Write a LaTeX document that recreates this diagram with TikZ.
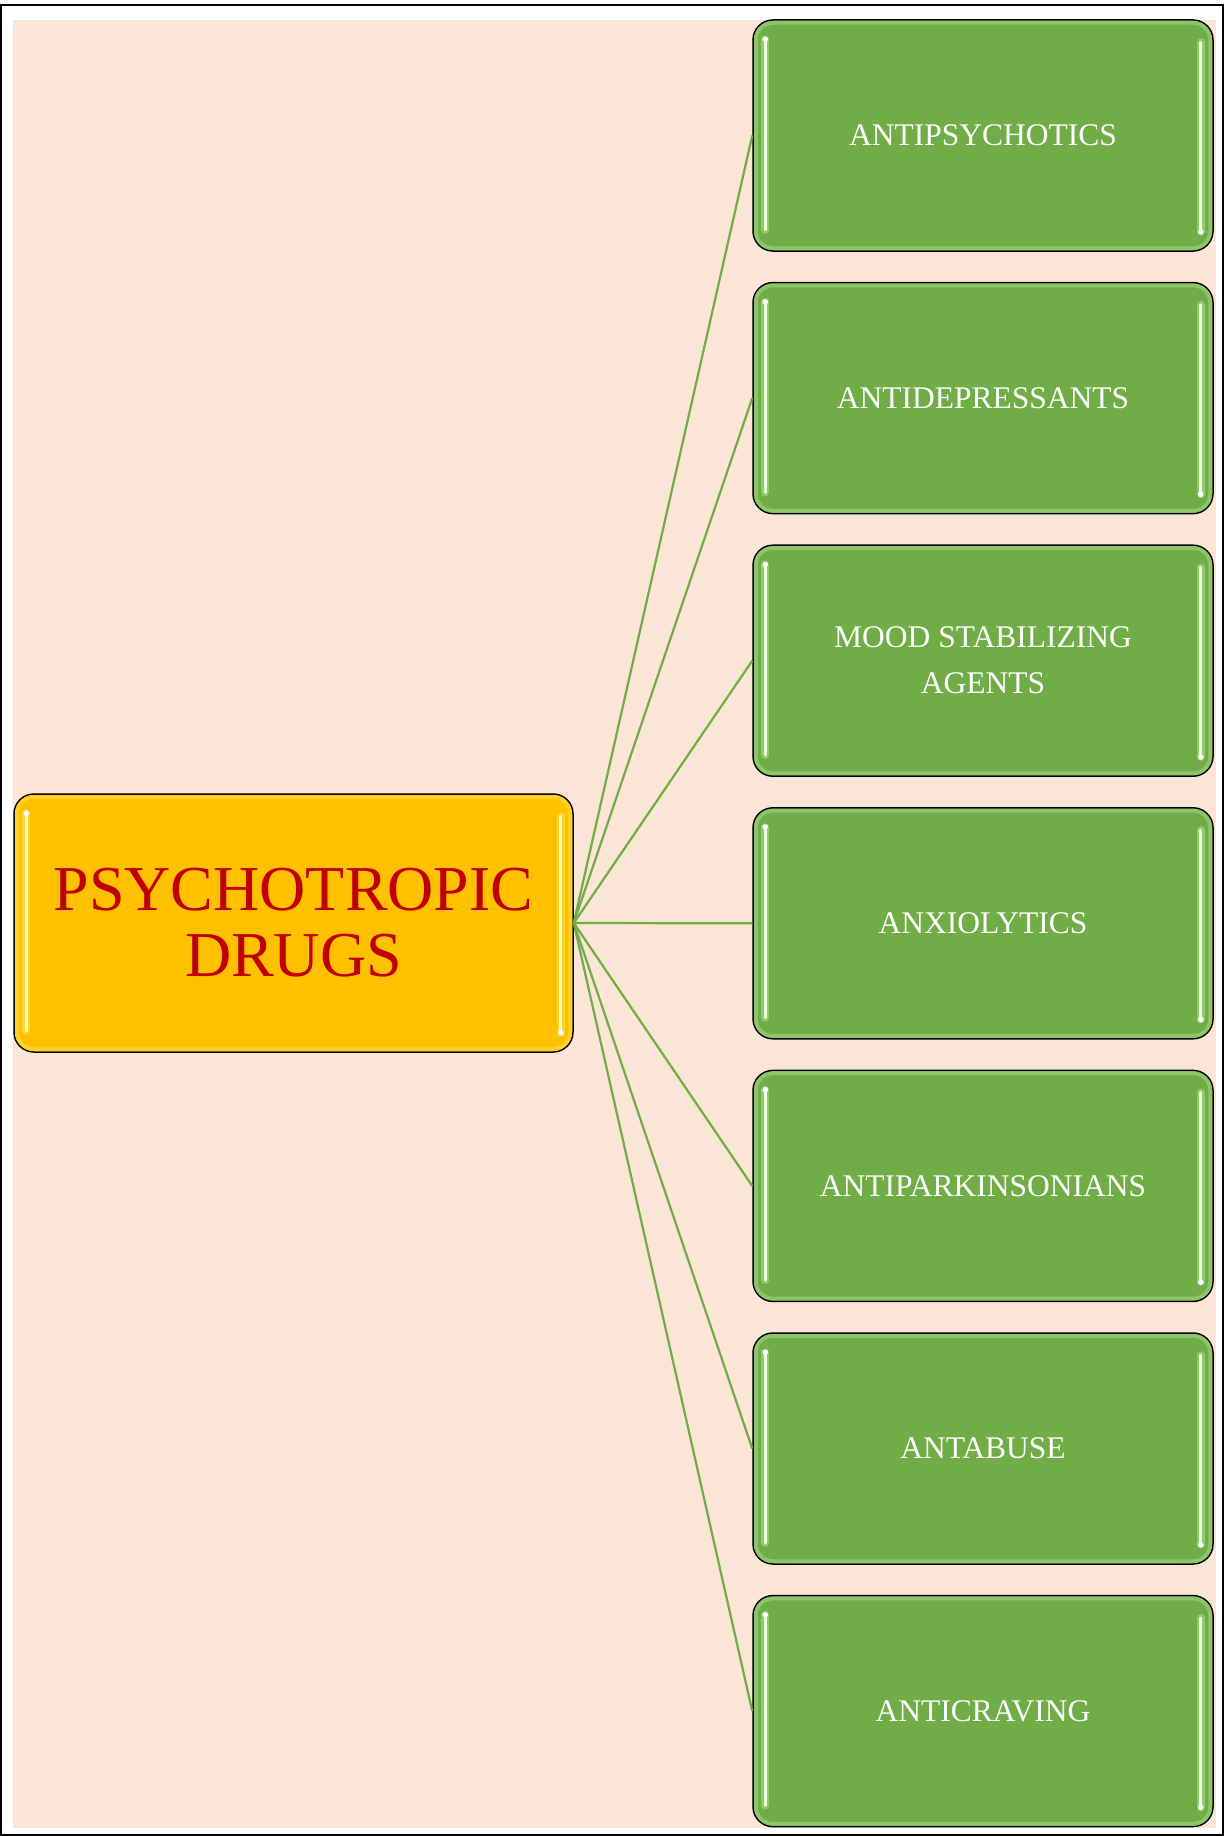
\documentclass[tikz,border=0pt]{standalone}
\usepackage{fontspec}
\setmainfont{Liberation Serif}
\definecolor{peach}{HTML}{FBE5D6}
\definecolor{leaf}{HTML}{70AD47}
\definecolor{gold}{HTML}{FFC000}
\definecolor{deepred}{HTML}{C00000}
\definecolor{leafhl}{HTML}{EDFFDD}
\definecolor{leafglow}{HTML}{B4E395}
\definecolor{goldhl}{HTML}{FFFFB0}
\definecolor{goldglow}{HTML}{FFE65A}
\begin{document}
\begin{tikzpicture}[x=1pt,y=-1pt,
  hubbox/.style={draw=black, line width=1.5pt, fill=gold, rounded corners=20pt,
    minimum width=559pt, minimum height=258pt, inner sep=0pt, align=center,
    text=deepred, font=\fontsize{64}{66}\selectfont},
  classbox/.style={draw=black, line width=1.5pt, fill=leaf, rounded corners=20pt,
    minimum width=460pt, minimum height=231pt, inner sep=0pt, align=center,
    text=white, font=\fontsize{31.5}{46}\selectfont},
  link/.style={draw=leaf, line width=2.2pt},
  rim/.style={line width=4pt, rounded corners=17pt, opacity=0.45},
  glow/.style={line width=8pt, line cap=round, opacity=0.5},
  shine/.style={line width=3pt, line cap=round}
]
% page frame and background
\useasboundingbox (0,0) rectangle (1224,1836);
\fill[white] (0,0) rectangle (1224,1836);
\fill[peach] (13,20) rectangle (1216,1828);
\draw[black, line width=2pt] (1,5) rectangle (1223,1835);

% central box
\node[hubbox] (hub) at (293.5,923) {PSYCHOTROPIC\\DRUGS};

% class boxes
\node[classbox] (b1) at (983,135.5) {ANTIPSYCHOTICS};
\node[classbox] (b2) at (983,398.1) {ANTIDEPRESSANTS};
\node[classbox] (b3) at (983,660.7) {MOOD STABILIZING\\AGENTS};
\node[classbox] (b4) at (983,923.3) {ANXIOLYTICS};
\node[classbox] (b5) at (983,1185.9) {ANTIPARKINSONIANS};
\node[classbox] (b6) at (983,1448.5) {ANTABUSE};
\node[classbox] (b7) at (983,1711.1) {ANTICRAVING};

% glossy rims and side highlights
\foreach \b in {b1,b2,b3,b4,b5,b6,b7}{
  \draw[rim, leafglow] ([xshift=3.5pt,yshift=-3.5pt]\b.north west) rectangle ([xshift=-3.5pt,yshift=3.5pt]\b.south east);
  \draw[glow, leafglow] ([xshift=13pt,yshift=-20pt]\b.north west) -- ([xshift=13pt,yshift=22pt]\b.south west);
  \draw[glow, leafglow] ([xshift=-13pt,yshift=-23pt]\b.north east) -- ([xshift=-13pt,yshift=20pt]\b.south east);
  \draw[shine, leafhl] ([xshift=13pt,yshift=-20pt]\b.north west) -- ([xshift=13pt,yshift=22pt]\b.south west);
  \draw[shine, leafhl] ([xshift=-13pt,yshift=-23pt]\b.north east) -- ([xshift=-13pt,yshift=20pt]\b.south east);
  \fill[white] ([xshift=13pt,yshift=-20pt]\b.north west) circle (2.8pt);
  \fill[white] ([xshift=-13pt,yshift=20pt]\b.south east) circle (2.8pt);
}
\draw[rim, goldglow] ([xshift=3.5pt,yshift=-3.5pt]hub.north west) rectangle ([xshift=-3.5pt,yshift=3.5pt]hub.south east);
\draw[glow, goldglow] ([xshift=13pt,yshift=-20pt]hub.north west) -- ([xshift=13pt,yshift=22pt]hub.south west);
\draw[glow, goldglow] ([xshift=-13pt,yshift=-23pt]hub.north east) -- ([xshift=-13pt,yshift=20pt]hub.south east);
\draw[shine, goldhl] ([xshift=13pt,yshift=-20pt]hub.north west) -- ([xshift=13pt,yshift=22pt]hub.south west);
\draw[shine, goldhl] ([xshift=-13pt,yshift=-23pt]hub.north east) -- ([xshift=-13pt,yshift=20pt]hub.south east);
\fill[white] ([xshift=13pt,yshift=-20pt]hub.north west) circle (2.8pt);
\fill[white] ([xshift=-13pt,yshift=20pt]hub.south east) circle (2.8pt);

% connectors
\foreach \b in {b1,b2,b3,b4,b5,b6,b7}{
  \draw[link] (hub.east) -- (\b.west);
}
\end{tikzpicture}
\end{document}
